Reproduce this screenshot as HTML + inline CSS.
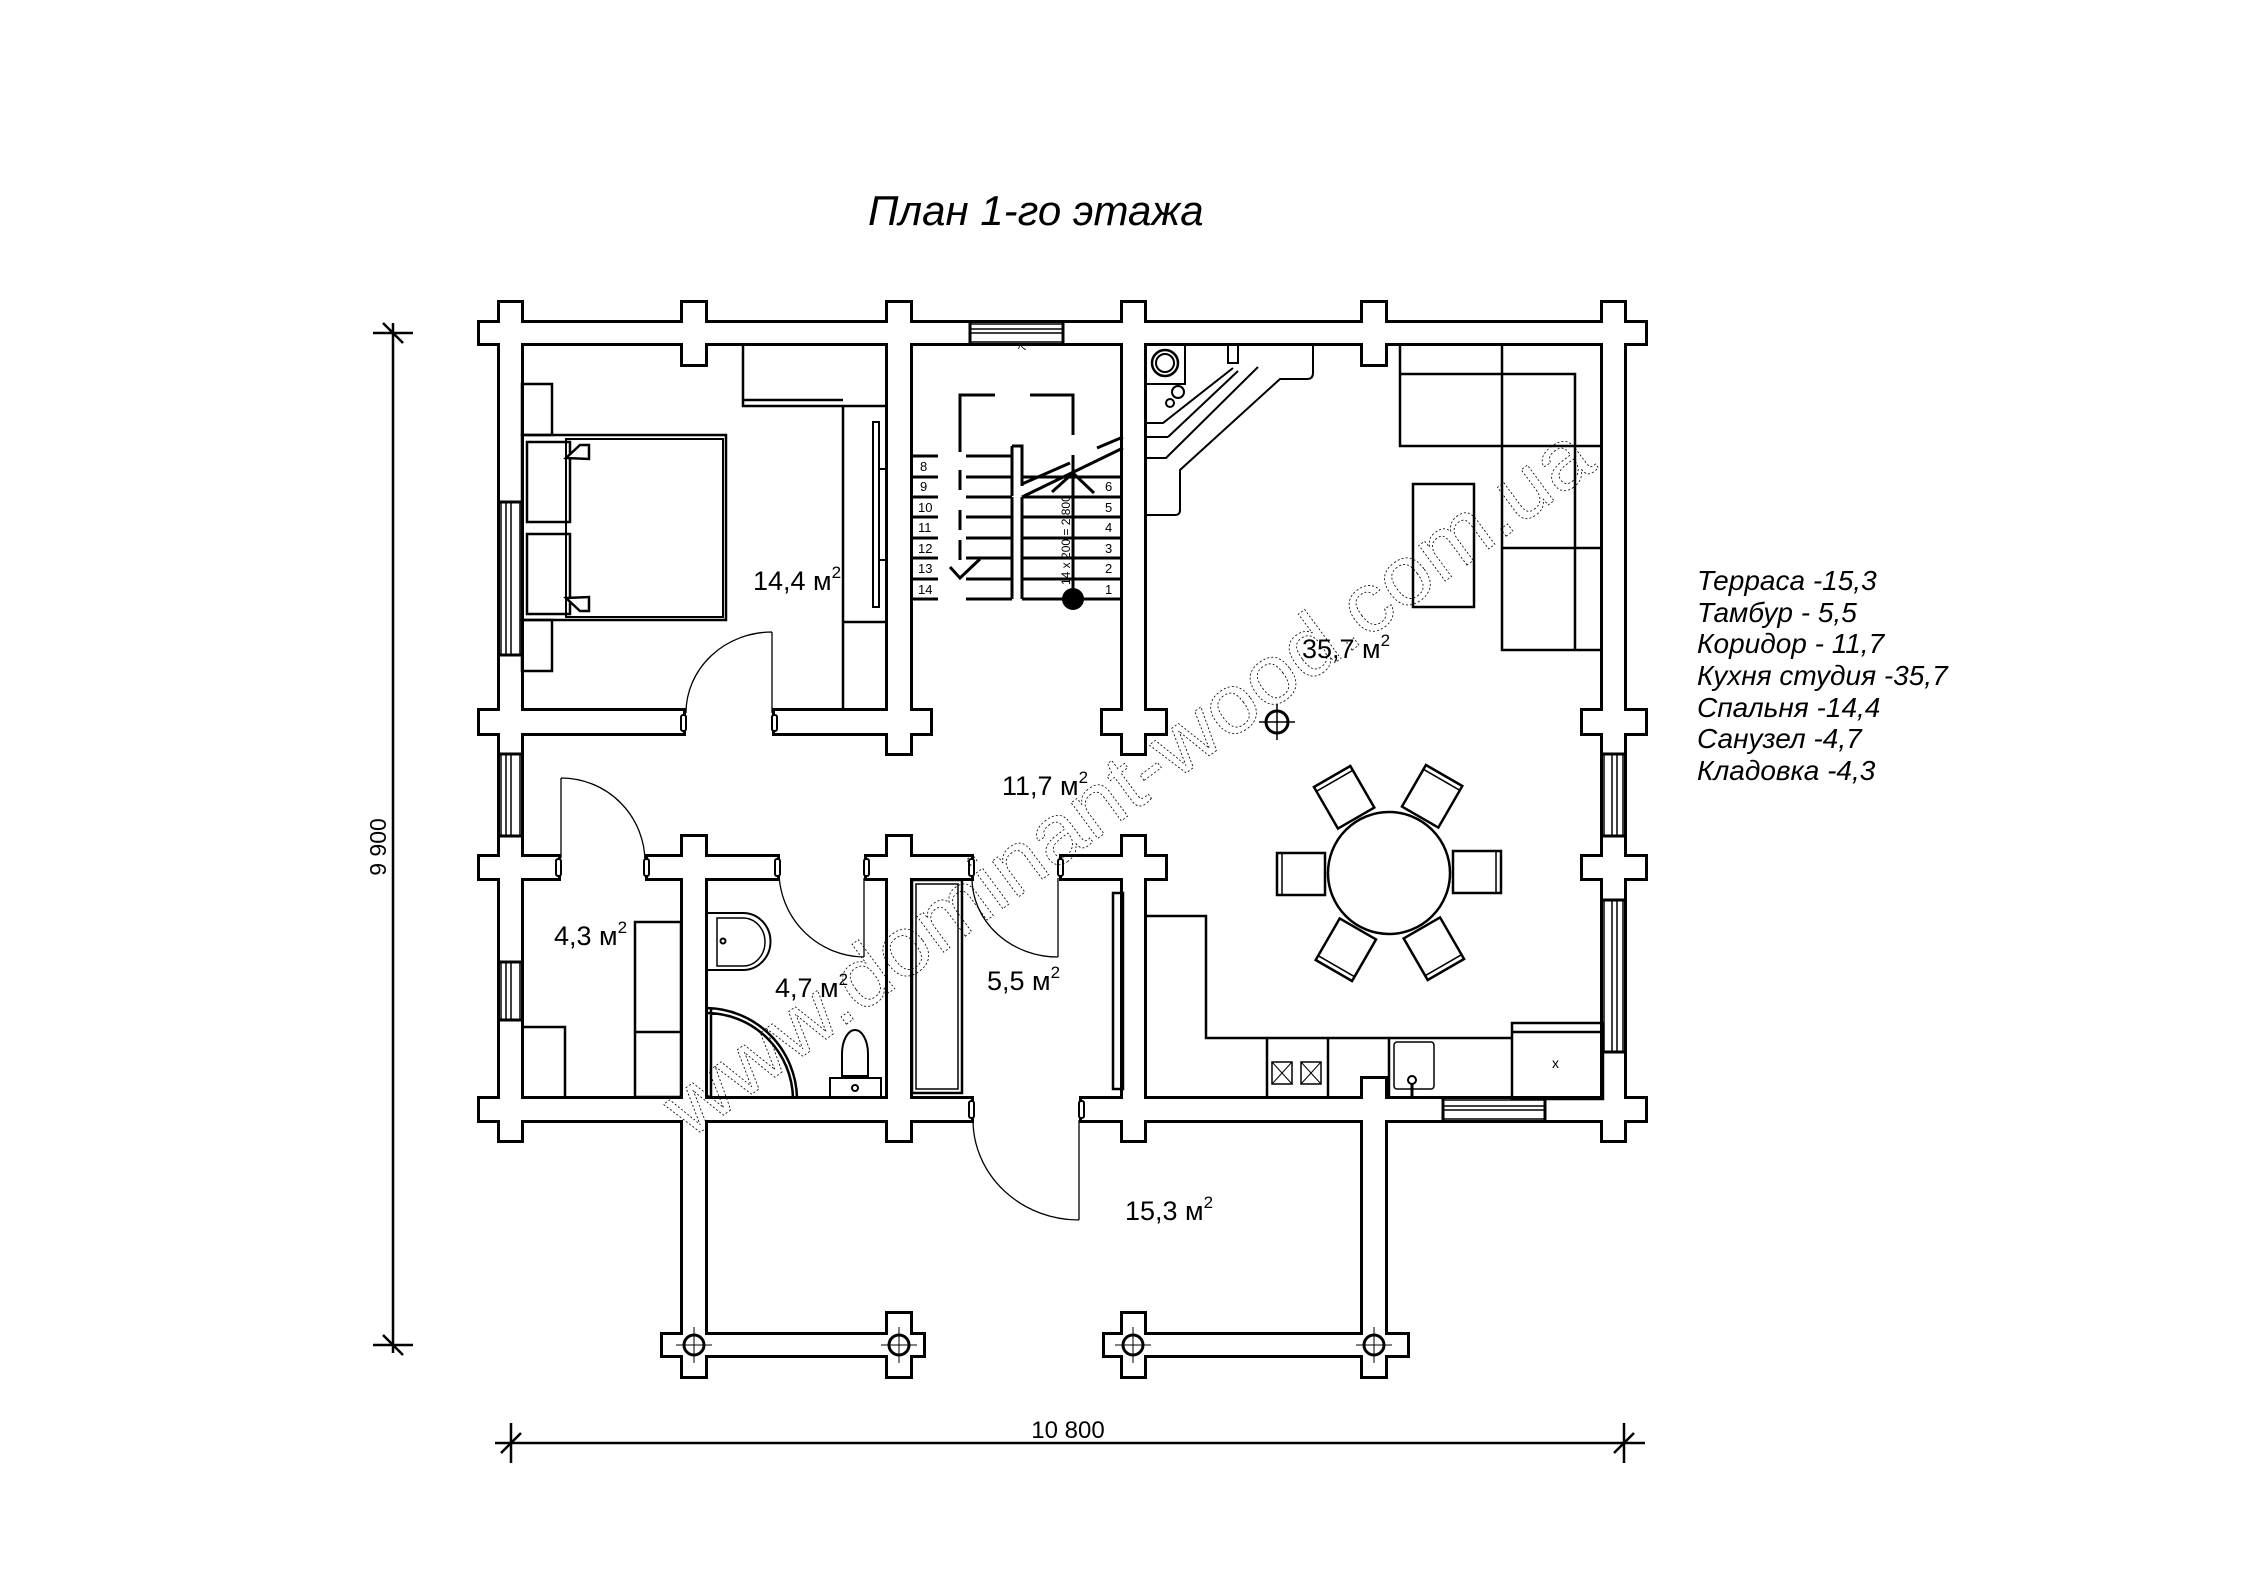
<!DOCTYPE html>
<html><head><meta charset="utf-8"><style>
html,body{margin:0;padding:0;background:#fff;}
svg{display:block;}
text{font-family:"Liberation Sans",sans-serif;}
</style></head><body>
<svg width="2245" height="1587" viewBox="0 0 2245 1587" xmlns="http://www.w3.org/2000/svg">
<rect width="2245" height="1587" fill="#fff"/>
<defs>
<g id="walls">
<rect x="480" y="323" width="1165" height="20"/>
<rect x="480" y="711" width="203" height="22"/>
<rect x="775" y="711" width="155" height="22"/>
<rect x="1103" y="711" width="62" height="22"/>
<rect x="1583" y="711" width="62" height="22"/>
<rect x="480" y="857" width="78" height="21"/>
<rect x="648" y="857" width="129" height="21"/>
<rect x="867" y="857" width="104" height="21"/>
<rect x="1062" y="857" width="103" height="21"/>
<rect x="1583" y="857" width="62" height="21"/>
<rect x="480" y="1099" width="491" height="21"/>
<rect x="1082" y="1099" width="563" height="21"/>
<rect x="500" y="303" width="21" height="837"/>
<rect x="683" y="303" width="22" height="61"/>
<rect x="888" y="303" width="22" height="450"/>
<rect x="1123" y="303" width="21" height="450"/>
<rect x="1363" y="303" width="22" height="61"/>
<rect x="1603" y="303" width="21" height="837"/>
<rect x="683" y="837" width="22" height="539"/>
<rect x="888" y="837" width="22" height="303"/>
<rect x="1123" y="837" width="21" height="303"/>
<rect x="1363" y="1079" width="22" height="297"/>
<rect x="663" y="1335" width="260" height="20"/>
<rect x="1105" y="1335" width="302" height="20"/>
<rect x="888" y="1314" width="22" height="62"/>
<rect x="1123" y="1314" width="21" height="62"/>
<rect x="683" y="1314" width="22" height="62"/>
<rect x="1363" y="1314" width="22" height="62"/>
</g>
</defs>
<use href="#walls" fill="none" stroke="#000" stroke-width="6"/>
<use href="#walls" fill="#fff"/>

<g stroke="#000" fill="none">
<circle cx="694" cy="1345" r="10" stroke-width="3"/><circle cx="899" cy="1345" r="10" stroke-width="3"/>
<circle cx="1133" cy="1345" r="10" stroke-width="3"/><circle cx="1374" cy="1345" r="10" stroke-width="3"/>
<path d="M676 1345h36M694 1327v36M881 1345h36M899 1327v36M1115 1345h36M1133 1327v36M1356 1345h36M1374 1327v36" stroke-width="1"/>
</g>

<g stroke="#000" fill="#fff" stroke-width="1.5">
<rect x="500" y="502" width="21" height="153" stroke="none"/>
<rect x="500" y="754" width="21" height="82" stroke="none"/>
<rect x="500" y="962" width="21" height="58" stroke="none"/>
<rect x="1603" y="754" width="21" height="82" stroke="none"/>
<rect x="1603" y="900" width="21" height="152" stroke="none"/>
<rect x="970" y="323" width="93" height="20" stroke="none"/>
<rect x="1443" y="1099" width="102" height="21" stroke="none"/>
<path d="M501 502v153M520 502v153M506 502v153M511 502v153M501 754v82M520 754v82M506 754v82M511 754v82M501 962v58M520 962v58M506 962v58M511 962v58
M1604 754v82M1623 754v82M1612 754v82M1617 754v82M1604 900v152M1623 900v152M1612 900v152M1617 900v152
M970 324h93M970 342h93M970 329h93M970 333h93M1443 1100h102M1443 1119h102M1443 1106h102M1443 1110h102" fill="none"/>
<path d="M500 502h21M500 655h21M500 754h21M500 836h21M500 962h21M500 1020h21M1603 754h21M1603 836h21M1603 900h21M1603 1052h21M970 323v20M1063 323v20M1443 1099v21M1545 1099v21" stroke-width="3" fill="none"/>
</g>

<g stroke="#000" fill="none" stroke-width="1.3">
<path d="M772 632v81M772 632 A86 81 0 0 0 686 713"/>
<path d="M561 778v80M561 778 A84 84 0 0 1 645 862"/>
<path d="M864 957v-79M779 870 A86 86 0 0 0 864 957"/>
<path d="M1058 957v-79M972 878 A86 79 0 0 0 1058 957"/>
<path d="M1079 1220v-100M973 1120 A106 100 0 0 0 1079 1220"/>
</g>
<g stroke="#000" fill="#fff" stroke-width="2">
<rect x="681" y="715" width="5" height="16" rx="2"/><rect x="772" y="715" width="5" height="16" rx="2"/>
<rect x="556" y="859" width="5" height="17" rx="2"/><rect x="644" y="859" width="5" height="17" rx="2"/>
<rect x="775" y="859" width="5" height="17" rx="2"/><rect x="864" y="859" width="5" height="17" rx="2"/>
<rect x="969" y="859" width="5" height="17" rx="2"/><rect x="1058" y="859" width="5" height="17" rx="2"/>
<rect x="969" y="1101" width="5" height="17" rx="2"/><rect x="1079" y="1101" width="5" height="17" rx="2"/>
</g>

<g stroke="#000" fill="none" stroke-width="2.5">
<rect x="522" y="435" width="204" height="185"/>
<rect x="566" y="439" width="157" height="178" stroke-width="2"/>
<rect x="527" y="442" width="43" height="80"/>
<rect x="527" y="534" width="43" height="80"/>
<path d="M566 458l14-13h9v14zM566 598l14 13h9v-14z" fill="#fff"/>
<rect x="522" y="384" width="30" height="51"/>
<rect x="522" y="620" width="30" height="51"/>
<path d="M743 343v63h145M743 400h100M843 406v304M843 622h45"/>
<rect x="873" y="422" width="6" height="185" stroke-width="2"/>
<path d="M879 469h9M879 560h9" stroke-width="2"/>
</g>

<g stroke="#000" fill="none" stroke-width="3">
<path d="M1022 477h101M1022 497h101M1022 517h101M1022 538h101M1022 558h101M1022 579h101M1022 599h101"/>
<path d="M910 456h28M910 477h28M910 497h28M910 517h28M910 538h28M910 558h28M910 579h28M910 599h28"/>
<path d="M966 456h46M966 477h46M966 497h46M966 517h46M966 538h46M966 558h46M966 579h46M966 599h46"/>
<path d="M1012 497v102M1022 497v102M1012 446h10v40M1012 446v50"/>
<path d="M960 452v-57h35M1030 395h43v40M1073 455v18M960 470v20M960 510v20M960 540v20"/>
<path d="M1022 497L1123 448M1022 484L1070 463M1097 448L1123 437"/>
<path d="M1073 599V473M1052 492L1073 473L1094 493M950 567L960 578L980 559"/>
</g>
<circle cx="1073" cy="599" r="11" fill="#000"/>
<g font-size="13" fill="#000">
<text x="920" y="471">8</text><text x="920" y="491">9</text><text x="918" y="512">10</text><text x="918" y="532">11</text><text x="918" y="553">12</text><text x="918" y="573">13</text><text x="918" y="594">14</text>
<text x="1105" y="491">6</text><text x="1105" y="512">5</text><text x="1105" y="532">4</text><text x="1105" y="553">3</text><text x="1105" y="573">2</text><text x="1105" y="594">1</text>
<text transform="translate(1070,585) rotate(-90)" font-size="12">14 x 200 = 2 800</text>
<text transform="translate(1025,352) rotate(-70)" font-size="11">7</text>
</g>

<g stroke="#000" fill="none" stroke-width="2">
<rect x="1146" y="345" width="39" height="39"/>
<circle cx="1165" cy="363" r="13" stroke-width="2.5"/><circle cx="1165" cy="363" r="9"/>
<path d="M1228 345v18h10v-18M1260 345h53v28q0 6-6 6h-27L1180 470v40q0 5-5 5h-29M1146 458h20l92-91"/>
<path d="M1146 423h17l70-55M1168 437l70-66M1146 437h22"/>
<circle cx="1178" cy="392" r="6"/><circle cx="1170" cy="403" r="4"/>
</g>

<g stroke="#000" fill="none" stroke-width="2.5">
<path d="M1400 343v103h203M1400 374h175v276M1502 343v307h101M1502 548h101"/>
<rect x="1413" y="484" width="61" height="123"/>
</g>

<g stroke="#000" fill="none"><circle cx="1277" cy="722" r="11" stroke-width="3"/><path d="M1259 722h36M1277 704v36" stroke-width="1.5"/></g>

<g stroke="#000" fill="#fff" stroke-width="2.5">
<circle cx="1389" cy="873" r="61"/>
<g id="ch"><rect x="1277" y="853" width="48" height="42"/><path d="M1282 853v42" stroke-width="1.5"/></g>
<use href="#ch" transform="rotate(60 1389 873)"/>
<use href="#ch" transform="rotate(120 1389 873)"/>
<use href="#ch" transform="rotate(180 1389 873)"/>
<use href="#ch" transform="rotate(240 1389 873)"/>
<use href="#ch" transform="rotate(300 1389 873)"/>
</g>

<g stroke="#000" fill="none" stroke-width="2.5">
<path d="M1144 916h62v122h306M1267 1038v61M1328 1038v61M1389 1038v61"/>
<rect x="1272" y="1062" width="20" height="22" stroke-width="1.5"/><rect x="1301" y="1062" width="20" height="22" stroke-width="1.5"/>
<path d="M1272 1062l20 22M1292 1062l-20 22M1301 1062l20 22M1321 1062l-20 22" stroke-width="1"/>
<rect x="1394" y="1042" width="40" height="47" rx="3" stroke-width="1.5"/>
<circle cx="1412" cy="1080" r="4" stroke-width="2"/><path d="M1412 1084v14" stroke-width="3"/>
<rect x="1512" y="1023" width="91" height="76"/><path d="M1512 1032h91"/>
</g>
<text x="1552" y="1068" font-size="14">x</text>
<path d="M1113 893h10v196h-10z" stroke="#000" fill="none" stroke-width="2.5"/>

<g stroke="#000" fill="none" stroke-width="2.5">
<rect x="912" y="880" width="50" height="213"/><rect x="916" y="884" width="42" height="205" stroke-width="1.5"/>
</g>

<g stroke="#000" fill="none" stroke-width="2">
<path d="M706 913h37a27 28 0 0 1 0 57h-37z"/><path d="M717 918h26a22 24 0 0 1 0 48h-26z" stroke-width="1.5"/>
<circle cx="723" cy="941" r="2.5"/>
<path d="M707 1008a92 92 0 0 1 90 90M707 1013a87 87 0 0 1 86 85M711 1008v90" stroke-width="2.5"/>
<rect x="830" y="1078" width="51" height="20"/><circle cx="855" cy="1088" r="3"/>
<path d="M842 1076v-22a13 24 0 0 1 26 0v22z"/>
</g>

<g stroke="#000" fill="none" stroke-width="2.5">
<rect x="635" y="922" width="46" height="175"/><path d="M635 1032h46"/>
<path d="M521 1027h44v71"/>
</g>

<g stroke="#000" stroke-width="2.5" fill="none">
<path d="M393 323v1030M373 333h40M373 1345h40M383 323l20 20M383 1335l20 20"/>
<path d="M495 1443h1150M511 1423v40M1624 1423v40M501 1453l20-20M1614 1453l20-20"/>
</g>
<text transform="translate(386,847) rotate(-90)" font-size="23" text-anchor="middle">9 900</text>
<text x="1068" y="1438" font-size="24" text-anchor="middle">10 800</text>

<text x="868" y="225" font-size="42" font-style="italic">План 1-го этажа</text>

<g font-size="27" fill="#000">
<text x="753" y="590">14,4 м<tspan font-size="17" dy="-12">2</tspan></text>
<text x="1302" y="658">35,7 м<tspan font-size="17" dy="-12">2</tspan></text>
<text x="1002" y="795">11,7 м<tspan font-size="17" dy="-12">2</tspan></text>
<text x="554" y="945">4,3 м<tspan font-size="17" dy="-12">2</tspan></text>
<text x="775" y="997">4,7 м<tspan font-size="17" dy="-12">2</tspan></text>
<text x="987" y="990">5,5 м<tspan font-size="17" dy="-12">2</tspan></text>
<text x="1125" y="1220">15,3 м<tspan font-size="17" dy="-12">2</tspan></text>
</g>

<g font-size="28" font-style="italic">
<text x="1697" y="590">Терраса -15,3</text>
<text x="1697" y="622">Тамбур - 5,5</text>
<text x="1697" y="653">Коридор - 11,7</text>
<text x="1697" y="685">Кухня студия -35,7</text>
<text x="1697" y="717">Спальня -14,4</text>
<text x="1697" y="748">Санузел -4,7</text>
<text x="1697" y="780">Кладовка -4,3</text>
</g>

<text transform="translate(690,1140) rotate(-36.5)" font-size="84" fill="none" stroke="#000" stroke-width="0.8" stroke-dasharray="2 2" textLength="1130" lengthAdjust="spacingAndGlyphs">www.dominant-wood.com.ua</text>
</svg>
</body></html>
